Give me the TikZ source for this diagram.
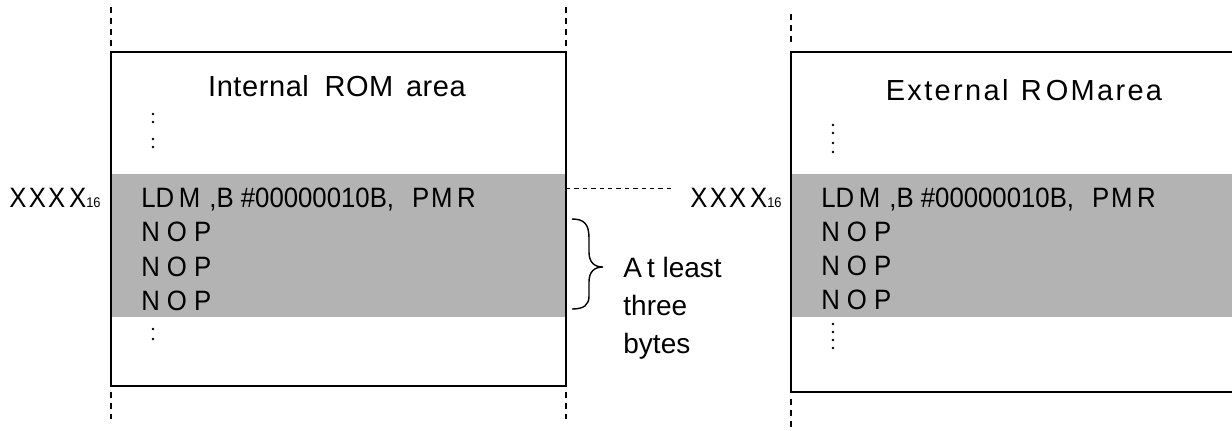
\documentclass[tikz,border=0pt]{standalone}
\usepackage{graphicx}
\usepackage{fontspec}
\setmainfont{Liberation Sans}
\newfontfamily\headfont[LetterSpace=2]{Liberation Sans}
\newfontfamily\wideheadfont[LetterSpace=8]{Liberation Sans}
\newcommand{\cond}[1]{\scalebox{0.92}[1]{#1}}
\definecolor{bandgray}{RGB}{179,179,179}
\begin{document}
\begin{tikzpicture}[x=0.5pt,y=-0.5pt,
  rom/.style={draw=black, line width=0.75pt},
  band/.style={fill=bandgray},
  guide/.style={draw=black, line width=0.6pt, dash pattern=on 3pt off 2.5pt},
  link/.style={draw=black, line width=0.5pt, dash pattern=on 2.2pt off 2pt},
  rowtxt/.style={anchor=base west, inner sep=0pt, font=\fontsize{14}{16}\selectfont},
  headtxt/.style={anchor=base, inner sep=0pt, font=\headfont\fontsize{14.5}{17}\selectfont},
  wideheadtxt/.style={anchor=base, inner sep=0pt, font=\wideheadfont\fontsize{14.5}{17}\selectfont},
  addr/.style={anchor=base east, inner sep=0pt, font=\fontsize{14}{16}\selectfont},
  note/.style={anchor=north west, inner sep=0pt, align=left, font=\fontsize{14}{19}\selectfont},
  dotmark/.style={fill=black}
]
\useasboundingbox (0,0) rectangle (1232,430);
\clip (0,0) rectangle (1232,430);

% ---- left memory (internal ROM) ----
\fill[band] (111,174) rectangle (566,317);
\draw[rom] (111,52) rectangle (566,386);
\draw[guide] (111,7) -- (111,46);
\draw[guide] (566,7) -- (566,46);
\draw[guide] (111,392) -- (111,419);
\draw[guide] (566,392) -- (566,419);

\node[headtxt] (hin) at (337,96) {Internal \kern3.5pt ROM \kern2pt area};
\foreach \yy in {114,122,139,147} \fill[dotmark] (153,\yy) circle (1.3);
\node[rowtxt] (l1) at (141,207) {\cond{LD\kern2.5pt M \kern1pt,B \#00000010B, \ \kern2pt P\kern1pt M\kern2.5pt R}};
\node[rowtxt] (l2) at (141,241.5) {\cond{N\kern3.8pt O\kern3.8pt P}};
\node[rowtxt] (l3) at (141,276) {\cond{N\kern3.8pt O\kern3.8pt P}};
\node[rowtxt] (l4) at (141,310.5) {\cond{N\kern3.8pt O\kern3.8pt P}};
\foreach \yy in {329,339} \fill[dotmark] (153,\yy) circle (1.3);
\node[addr] (xl) at (101,207) {\cond{X\kern1.2pt X\kern1.2pt X\kern2pt X{\fontsize{7}{8}\selectfont 16}}};

% ---- brace and note ----
\draw[line width=0.7pt] (572,219) .. controls (584,219) and (589,224) .. (589,238)
  -- (589,252) .. controls (589,262) and (594,267) .. (603,267)
  .. controls (594,267) and (589,272) .. (589,282)
  -- (589,296) .. controls (589,305) and (584,309) .. (572,309);
\node[note] (bytes) at (623,257) {A\kern2.5pt t least\\three\\bytes};

% ---- right memory (external ROM) ----
\fill[band] (791,174) rectangle (1240,317);
\draw[rom] (1240,52) -- (791,52) -- (791,392) -- (1240,392);
\draw[guide] (791,14) -- (791,46);
\draw[guide] (791,399) -- (791,427);

\node[wideheadtxt] (hex) at (1024,100) {External \kern1pt R\kern2pt OMarea};
\foreach \yy in {125,133,143,152} \fill[dotmark] (833,\yy) circle (1.3);
\node[rowtxt] (r1) at (821,207) {\cond{LD\kern2.5pt M \kern1pt,B \#00000010B, \ \kern2pt P\kern1pt M\kern2.5pt R}};
\node[rowtxt] (r2) at (821,241) {\cond{N\kern3.8pt O\kern3.8pt P}};
\node[rowtxt] (r3) at (821,275) {\cond{N\kern3.8pt O\kern3.8pt P}};
\node[rowtxt] (r4) at (821,309) {\cond{N\kern3.8pt O\kern3.8pt P}};
\foreach \yy in {324,332,340,348} \fill[dotmark] (833,\yy) circle (1.3);
\node[addr] (xr) at (782,207) {\cond{X\kern1.2pt X\kern1.2pt X\kern2pt X{\fontsize{7}{8}\selectfont 16}}};

% ---- dashed link between the two XXXX addresses ----
\coordinate (lk) at (566,188);
\draw[link, shorten >=7.5pt] (lk) -- (lk -| xr.west);
\end{tikzpicture}
\end{document}
